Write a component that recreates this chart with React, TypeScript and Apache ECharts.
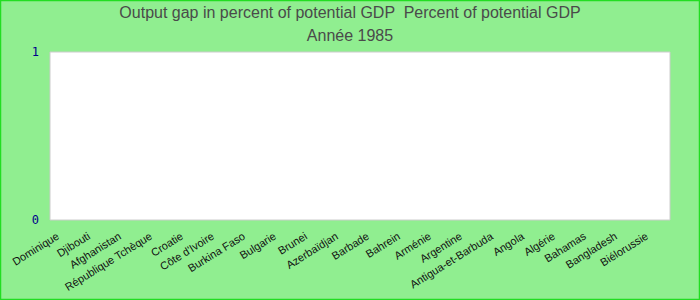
import React, { useEffect, useRef } from "react";
import * as echarts from "echarts";

const titleLine1 = "Output gap in percent of potential GDP  Percent of potential GDP";
const titleLine2 = "Année 1985";
const categories = [
  "Dominique",
  "Djibouti",
  "Afghanistan",
  "République Tchèque",
  "Croatie",
  "Côte d'Ivoire",
  "Burkina Faso",
  "Bulgarie",
  "Brunei",
  "Azerbaïdjan",
  "Barbade",
  "Bahrein",
  "Arménie",
  "Argentine",
  "Antigua-et-Barbuda",
  "Angola",
  "Algérie",
  "Bahamas",
  "Bangladesh",
  "Biélorussie",
];
const values: (number | null)[] = categories.map(() => null);
const yMin = 0;
const yMax = 1;
const yInterval = 1;

export default function App() {
  const ref = useRef<HTMLDivElement>(null);
  useEffect(() => {
    document.body.style.margin = "0";
    const chart = echarts.init(ref.current!, undefined, { renderer: "svg" });
    chart.setOption({
      animation: false,
      backgroundColor: "#90EE90",
      title: [
        {
          text: titleLine1,
          left: "center",
          top: 4,
          padding: 0,
          textStyle: { fontFamily: "Liberation Sans, Arial", fontSize: 16, fontWeight: "normal", color: "#4a4a4a" },
        },
        {
          text: titleLine2,
          left: "center",
          top: 27,
          padding: 0,
          textStyle: { fontFamily: "Liberation Sans, Arial", fontSize: 16, fontWeight: "normal", color: "#4a4a4a" },
        },
      ],
      graphic: [
        {
          type: "rect",
          shape: { x: 0.5, y: 0.5, width: 699, height: 299 },
          style: { fill: "none", stroke: "#22dd22", lineWidth: 1.5 },
          silent: true,
          z: 100,
        },
      ],
      grid: {
        left: 50,
        right: 30,
        top: 52,
        bottom: 80,
        show: true,
        backgroundColor: "#ffffff",
        borderColor: "#cccccc",
        borderWidth: 1,
      },
      xAxis: {
        type: "category",
        data: categories,
        axisLine: { show: false },
        axisTick: { show: false },
        axisLabel: {
          interval: 0,
          rotate: 32,
          margin: 10,
          padding: [0, 9, 0, 0],
          fontFamily: "Liberation Sans, Arial",
          fontSize: 11,
          color: "#111",
        },
      },
      yAxis: {
        type: "value",
        min: yMin,
        max: yMax,
        interval: yInterval,
        splitLine: { show: false },
        axisLine: { show: false },
        axisTick: { show: false },
        axisLabel: {
          margin: 11,
          fontFamily: "DejaVu Sans Mono",
          fontSize: 12,
          color: "#00008b",
        },
      },
      series: [
        {
          type: "bar",
          data: values,
        },
      ],
    });
    return () => chart.dispose();
  }, []);
  return <div ref={ref} style={{ width: 700, height: 300 }} />;
}
